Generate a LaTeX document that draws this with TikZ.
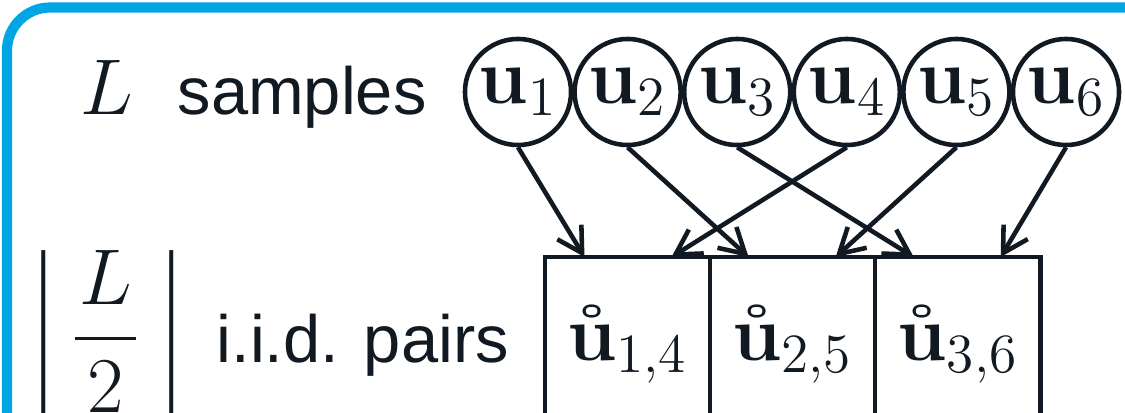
\documentclass[tikz,border=0pt]{standalone}
\usepackage{fix-cm}
\usepackage{amsmath}
\usepackage[no-math]{fontspec}
\newfontfamily\labelfont{Liberation Sans}
\usepackage{tikz}
\usetikzlibrary{arrows.meta,positioning}

\definecolor{ink}{HTML}{111A22}
\definecolor{frameblue}{HTML}{00A6E4}

\begin{document}
\begin{tikzpicture}[x=0.01cm, y=-0.01cm, color=ink,
  sample/.style={circle, draw, line width=1.3pt, minimum size=1.06cm, inner sep=0pt, font=\fontsize{22.5}{27}\selectfont},
  pairbox/.style={rectangle, draw, line width=1.3pt, minimum width=1.65cm, minimum height=1.75cm, inner sep=0pt, outer sep=0pt, font=\fontsize{22.5}{27}\selectfont},
  mathlabel/.style={inner sep=0pt, font=\fontsize{22.5}{27}\selectfont},
  textlabel/.style={inner sep=0pt, font=\labelfont\fontsize{19}{23}\selectfont},
  pick/.style={-{Straight Barb[length=7pt,width=8pt]}, line width=1.3pt}]
\useasboundingbox (0,0) rectangle (1125,412);
\clip (0,0) rectangle (1125,412);

% Frame around the whole panel
\draw[frameblue, line width=2.9pt, rounded corners=0.43cm] (7,7.5) rectangle (1400,700);

% Top row: the samples
\node[mathlabel, anchor=base west] (nL) at (80,114) {$L$};
\node[textlabel, anchor=base west] (samples) at (177,114) {samples};
\node[sample] (u1) at (518,92) {$\mathbf{u}_1$};
\node[sample] (u2) at (627.6,92) {$\mathbf{u}_2$};
\node[sample] (u3) at (737.2,92) {$\mathbf{u}_3$};
\node[sample] (u4) at (846.8,92) {$\mathbf{u}_4$};
\node[sample] (u5) at (956.4,92) {$\mathbf{u}_5$};
\node[sample] (u6) at (1066,92) {$\mathbf{u}_6$};

% Bottom row: the pairs
\node[mathlabel, anchor=base west] (half) at (23,358) {$\left\lfloor\mkern1mu\dfrac{\mkern1mu L\mkern1mu}{2}\mkern2mu\right\rfloor$};
\node[textlabel, anchor=base west] (pairs) at (216,362) {i.i.d. pairs};
\node[pairbox, anchor=north] (p14) at (627.5,257) {$\mathbf{\mathring{u}}_{1,4}$};
\node[pairbox, right=0pt of p14] (p25) {$\mathbf{\mathring{u}}_{2,5}$};
\node[pairbox, right=0pt of p25] (p36) {$\mathbf{\mathring{u}}_{3,6}$};

% Pairing
\draw[pick] (u1.south) -- ([xshift=-0.43cm]p14.north);
\draw[pick] (u4.south) -- ([xshift=0.44cm]p14.north);
\draw[pick] (u2.south) -- ([xshift=-0.44cm]p25.north);
\draw[pick] (u5.south) -- ([xshift=0.43cm]p25.north);
\draw[pick] (u3.south) -- ([xshift=-0.44cm]p36.north);
\draw[pick] (u6.south) -- ([xshift=0.43cm]p36.north);

\end{tikzpicture}
\end{document}
